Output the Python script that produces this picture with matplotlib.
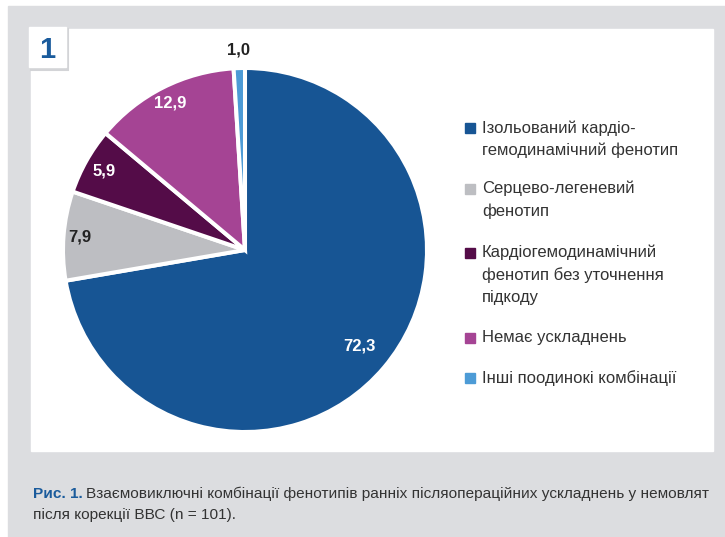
import numpy as np
import matplotlib.pyplot as plt
from matplotlib.patches import Rectangle

plt.rcParams['font.family'] = ['Liberation Sans', 'DejaVu Sans']

# Частки фенотипів ускладнень, %
labels = ['Ізольований кардіо-\nгемодинамічний фенотип',
          'Серцево-легеневий\nфенотип',
          'Кардіогемодинамічний\nфенотип без уточнення\nпідкоду',
          'Немає ускладнень',
          'Інші поодинокі комбінації']
values = [72.3, 7.9, 5.9, 12.9, 1.0]
value_text = ['72,3', '7,9', '5,9', '12,9', '1,0']
colors = ['#175594', '#bdbec2', '#540c48', '#a54494', '#4d9bd6']
text_colors = ['white', '#222222', 'white', 'white', '#222222']
label_dist = [0.82, 0.91, 0.885, 0.905, 1.10]

W, H = 725, 537
fig = plt.figure(figsize=(W / 100, H / 100), dpi=100)

# background in pixel coordinates
bg = fig.add_axes([0, 0, 1, 1])
bg.set_xlim(0, W)
bg.set_ylim(H, 0)
bg.axis('off')
bg.add_patch(Rectangle((8, 6), W - 8, H - 6, color='#dcdde0', zorder=0))
bg.add_patch(Rectangle((31, 29), 682, 422, color='white', zorder=1))
bg.add_patch(Rectangle((31, 29), 36, 40, facecolor='white', edgecolor='#d3d4d7', lw=2.2, zorder=2))
bg.add_patch(Rectangle((29, 27), 37, 40, color='white', zorder=3))
bg.text(47, 50, '1', fontsize=21, fontweight='bold', color='#1a5b9c',
        ha='center', va='center', zorder=4)

# pie
cx, cy, r = 245, 250, 182
ax = fig.add_axes([(cx - r) / W, (H - cy - r) / H, 2 * r / W, 2 * r / H])
wedges, _ = ax.pie(values, colors=colors, startangle=90, counterclock=False,
                   wedgeprops=dict(edgecolor='white', linewidth=2.9))
ax.set_xlim(-1, 1)
ax.set_ylim(-1, 1)

for w, txt, c, d in zip(wedges, value_text, text_colors, label_dist):
    ang = np.deg2rad((w.theta1 + w.theta2) / 2)
    ax.text(d * np.cos(ang), d * np.sin(ang), txt, ha='center', va='center',
            fontsize=12, fontweight='bold', color=c)

# legend
leg_y = [128, 189, 253, 338, 378]
for y, lab, c in zip(leg_y, labels, colors):
    bg.add_patch(Rectangle((465, y - 5), 10, 10, color=c, zorder=4))
    bg.text(482, y - 8, lab, fontsize=12, color='#333333', ha='left', va='top',
            linespacing=1.54, zorder=4)

# caption
t1 = bg.text(33, 498, 'Рис. 1.', fontsize=11.1, fontweight='bold', color='#1a5b9c',
             ha='left', va='baseline')
bg.annotate('Взаємовиключні комбінації фенотипів ранніх післяопераційних ускладнень у немовлят',
            xy=(1, 0), xycoords=t1, xytext=(2.5, 0), textcoords='offset points',
            ha='left', va='bottom', fontsize=11.1, color='#333333')
bg.text(33, 519, 'після корекції ВВС (n = 101).', fontsize=11.1, color='#333333',
        ha='left', va='baseline')

fig.savefig('out.png', dpi=100)
